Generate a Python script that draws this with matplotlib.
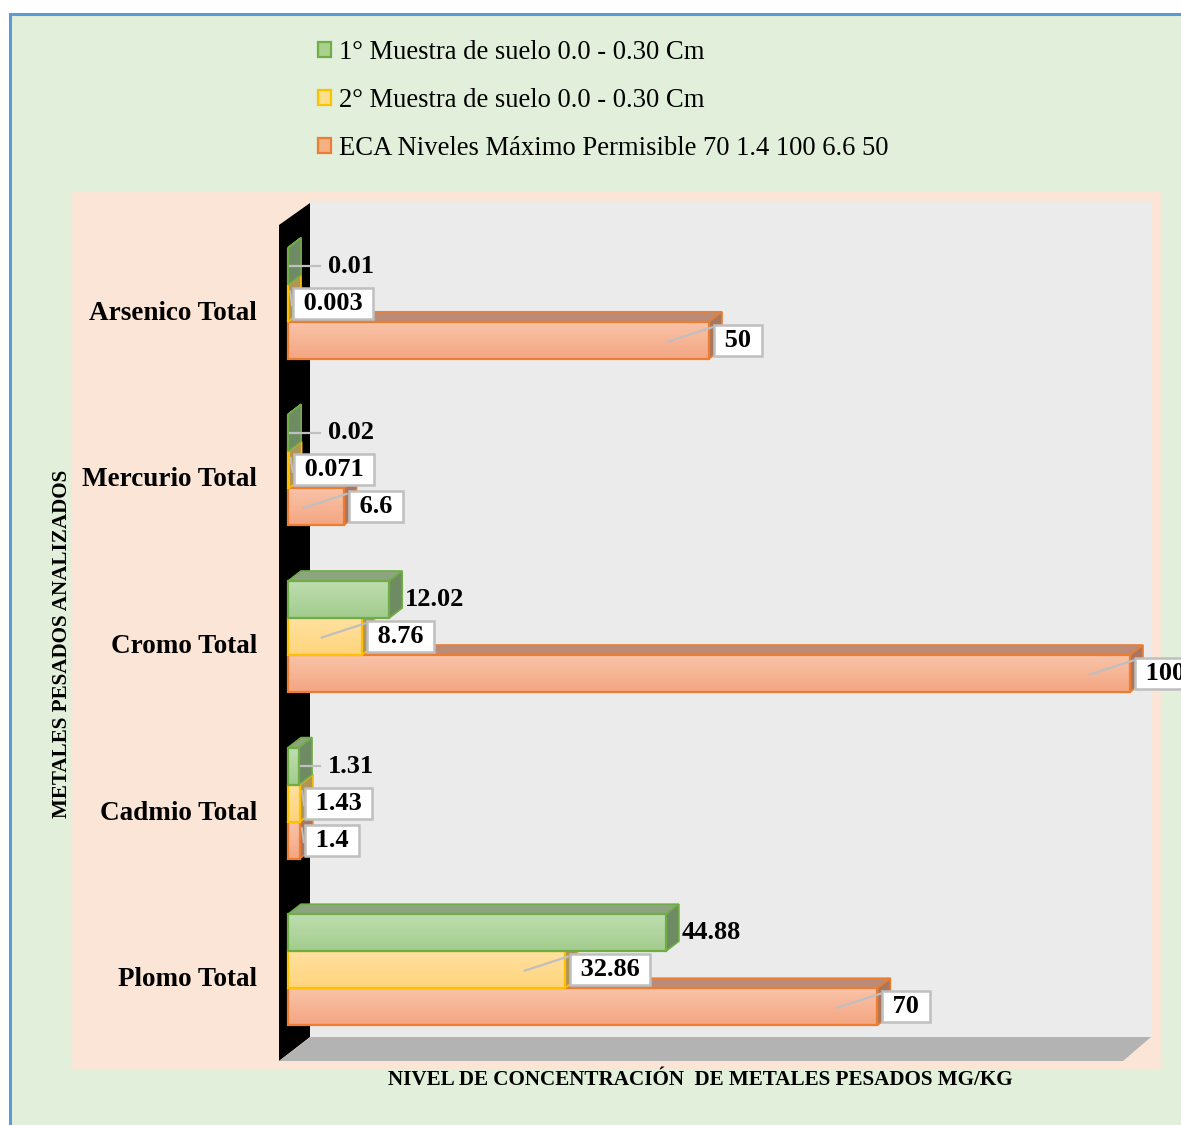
import numpy as np
import matplotlib
matplotlib.use('Agg')
import matplotlib.pyplot as plt
from matplotlib.patches import Rectangle, Polygon, Patch
from matplotlib.colors import LinearSegmentedColormap
from matplotlib.transforms import offset_copy

# ========== Data ==========
categories = ['Plomo Total', 'Cadmio Total', 'Cromo Total', 'Mercurio Total', 'Arsenico Total']
muestra1 = [44.88, 1.31, 12.02, 0.02, 0.01]
muestra2 = [32.86, 1.43, 8.76, 0.071, 0.003]
eca = [70, 1.4, 100, 6.6, 50]
value_text1 = ['44.88', '1.31', '12.02', '0.02', '0.01']
value_text2 = ['32.86', '1.43', '8.76', '0.071', '0.003']
value_text3 = ['70', '1.4', '100', '6.6', '50']
series_labels = ['1° Muestra de suelo 0.0 - 0.30 Cm',
                 '2° Muestra de suelo 0.0 - 0.30 Cm',
                 'ECA Niveles Máximo Permisible 70 1.4 100 6.6 50']

# ========== Style ==========
plt.rcParams['font.family'] = ['Liberation Serif', 'DejaVu Serif']

W, H = 1181, 1125
fig = plt.figure(figsize=(W / 100, H / 100), dpi=100)
fig.patch.set_facecolor('white')


def fx(px):
    return px / W


def fy(py):
    return 1 - py / H


def fig_poly(points, **kw):
    p = Polygon([(fx(x), fy(y)) for x, y in points], closed=True,
                transform=fig.transFigure, **kw)
    fig.patches.append(p)


# backgrounds: chart area, plot area, walls, floor
fig_poly([(10, 14), (1200, 14), (1200, 1140), (10, 1140)],
         facecolor='#E2EFDA', edgecolor='#5B9BD5', lw=2.2, zorder=-10)
fig_poly([(72, 192), (1161, 192), (1161, 1069), (72, 1069)],
         facecolor='#FBE5D6', edgecolor='none', zorder=-9)
fig_poly([(310, 202), (1152, 202), (1152, 1037), (310, 1037)],
         facecolor='#EBEBEB', edgecolor='none', zorder=-8)
fig_poly([(279, 225), (310, 203), (310, 1037), (279, 1061)],
         facecolor='black', edgecolor='none', zorder=-7)
fig_poly([(279, 1061), (1123, 1061), (1151, 1037), (311, 1037)],
         facecolor='#B3B3B3', edgecolor='none', zorder=-6)

# ========== Axes (front plane of the bars) ==========
AX_L, AX_R, AX_T, AX_B = 288, 1130, 220, 1053
ax = fig.add_axes([fx(AX_L), fy(AX_B), (AX_R - AX_L) / W, (AX_B - AX_T) / H])
ax.set_xlim(0, 100)
ax.set_ylim(-0.5, 4.5)
ax.axis('off')

SX = (AX_R - AX_L) / 100.0     # px per unit on x
SY = (AX_B - AX_T) / 5.0       # px per category
DX = 13 / SX                   # 3D depth offset
DY = 10 / SY
BH = 37 / SY                   # bar thickness

series = [
    # values, offset, front top, front bottom, edge, top face, side face, z
    (eca, -BH, '#F9C3A8', '#F4A682', '#ED7D31', '#BC8B76', '#A9775F', 2),
    (muestra2, 0.0, '#FFE1A0', '#FFD47C', '#FFC000', '#C8AC6A', '#B0955A', 3),
    (muestra1, BH, '#BEDDB0', '#A2CC8C', '#70AD47', '#8CA57E', '#6F8B63', 4),
]

grad = np.linspace(0, 1, 64).reshape(-1, 1)
y_pos = np.arange(len(categories))

for vals, off, c_top, c_bot, c_edge, c_face, c_side, z in series:
    cmap = LinearSegmentedColormap.from_list('g', [c_top, c_bot])
    for y0, v in zip(y_pos, vals):
        yc = y0 + off
        yb, yt = yc - BH / 2, yc + BH / 2
        # top face
        ax.add_patch(Polygon([(0, yt), (v, yt), (v + DX, yt + DY), (DX, yt + DY)],
                             facecolor=c_face, edgecolor=c_edge, lw=1.2,
                             zorder=z, clip_on=False))
        # side face
        ax.add_patch(Polygon([(v, yb), (v, yt), (v + DX, yt + DY), (v + DX, yb + DY)],
                             facecolor=c_side, edgecolor=c_edge, lw=1.2,
                             zorder=z, clip_on=False))
        # front face with gradient
        ax.imshow(grad, extent=[0, v, yb, yt], aspect='auto', cmap=cmap,
                  origin='upper', interpolation='bilinear', zorder=z, clip_on=False)
        ax.add_patch(Rectangle((0, yb), v, BH, fill=False, edgecolor=c_edge,
                               lw=1.6, zorder=z, clip_on=False))

ax.set_xlim(0, 100)
ax.set_ylim(-0.5, 4.5)

LEAD = '#BFBFBF'
FS_VAL = 19

# labels of the first sample (no box)
for y0, v, t in zip(y_pos, muestra1, value_text1):
    yc = y0 + BH
    lx = max(v + 16 / SX, 40 / SX)
    if v * SX + 16 < 40:
        ax.plot([v + 2 / SX, lx - 8 / SX], [yc, yc], color=LEAD, lw=1.6,
                zorder=10, clip_on=False)
    ax.text(lx, yc, t, ha='left', va='center', fontsize=FS_VAL,
            fontweight='bold', zorder=11, clip_on=False)

# boxed labels (second sample and ECA)
for vals, texts, off in [(muestra2, value_text2, 0.0), (eca, value_text3, -BH)]:
    for y0, v, t in zip(y_pos, vals, texts):
        yc = y0 + off
        if v * SX > 40:
            ax.plot([v - 40 / SX, v + 3 / SX], [yc - 1 / SY, yc + 13 / SY],
                    color=LEAD, lw=1.6, zorder=10, clip_on=False)
        else:
            ax.plot([v + 2 / SX, v + 4 / SX], [yc + 12 / SY, yc - 2 / SY],
                    color=LEAD, lw=1.4, zorder=10, clip_on=False)
        ax.text(v + 9 / SX, yc, ' ' + t + ' ', ha='left', va='center',
                fontsize=FS_VAL, fontweight='bold', zorder=11, clip_on=False,
                bbox=dict(boxstyle='square,pad=0.15', facecolor='white',
                          edgecolor='#BFBFBF', lw=1.8))

# category labels
cat_tr = offset_copy(ax.get_yaxis_transform(), fig=fig, x=-31, y=-10, units='dots')
for y0, c in zip(y_pos, categories):
    ax.text(0, y0, c, transform=cat_tr, ha='right', va='center',
            fontsize=19.5, fontweight='bold', clip_on=False)

# axis titles
fig.text(fx(700), fy(1080), 'NIVEL DE CONCENTRACIÓN  DE METALES PESADOS MG/KG',
         ha='center', va='center', fontsize=15.2, fontweight='bold')
fig.text(fx(62), fy(644), 'METALES PESADOS ANALIZADOS', rotation=90,
         ha='center', va='center', fontsize=15.2, fontweight='bold')

# legend
handles = [Patch(facecolor='#A9D18E', edgecolor='#70AD47', lw=1.6),
           Patch(facecolor='#FFE08A', edgecolor='#FFC000', lw=1.6),
           Patch(facecolor='#F4B183', edgecolor='#ED7D31', lw=1.6)]
fig.legend(handles, series_labels, loc='upper left',
           bbox_to_anchor=(fx(318), fy(40)), frameon=False, fontsize=19.2,
           handlelength=0.5, handleheight=0.5, handletextpad=0.3,
           labelspacing=0.86, borderpad=0, borderaxespad=0)

fig.savefig('out.png', dpi=100)
